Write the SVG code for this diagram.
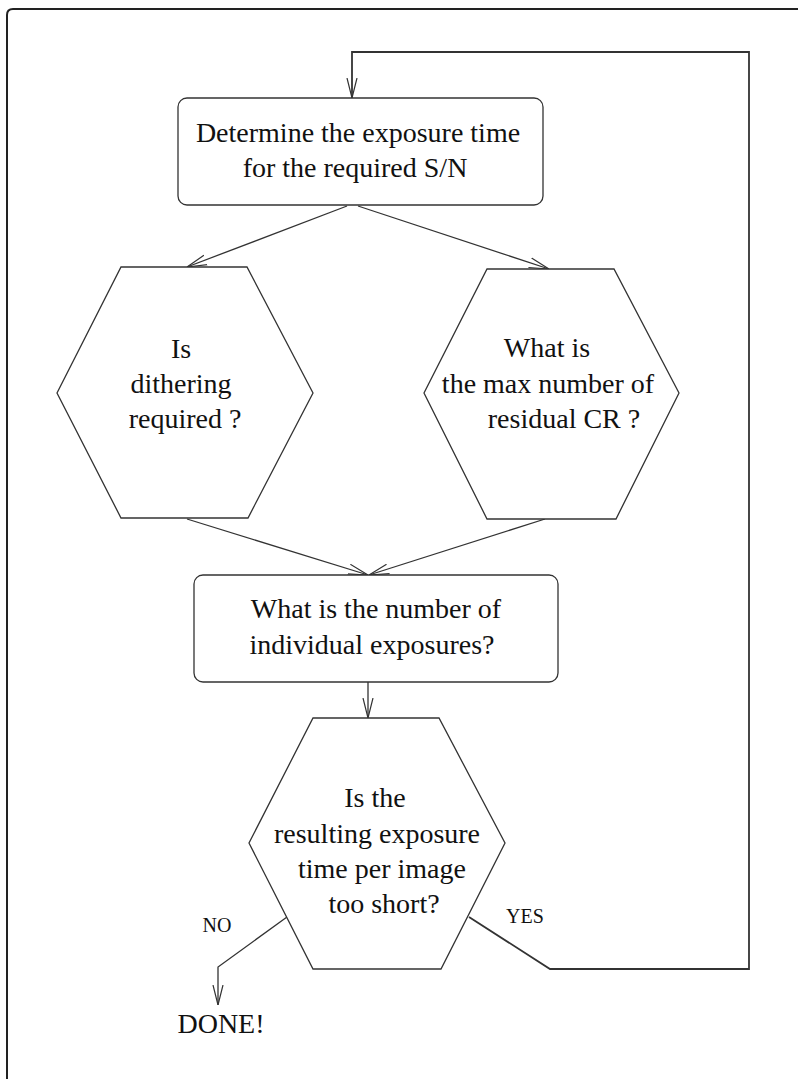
<svg xmlns="http://www.w3.org/2000/svg" width="798" height="1079" viewBox="0 0 798 1079">
<style>
  .shape { fill: #fff; stroke: #333; stroke-width: 1.3; }
  .conn { fill: none; stroke: #333; stroke-width: 1.3; }
  .loop { fill: none; stroke: #333; stroke-width: 1.8; }
  .t { font-family: "Liberation Serif", "Times New Roman", serif; font-size: 28px; fill: #111; text-anchor: middle; }
  .lbl { font-family: "Liberation Serif", "Times New Roman", serif; font-size: 20px; fill: #111; text-anchor: middle; }
</style>
<defs>
  <marker id="arr" viewBox="0 0 20 12" refX="20" refY="6" markerWidth="20" markerHeight="12" markerUnits="userSpaceOnUse" orient="auto">
    <path d="M0,1 L20,6 L0,11" fill="none" stroke="#333" stroke-width="1.2"/>
  </marker>
</defs>
<rect width="798" height="1079" fill="#fff"/>
<path id="frame" d="M7,1079 V15 Q7,9 13,9 H798" fill="none" stroke="#222" stroke-width="2"/>

<g id="connectors">
  <path class="conn" d="M347,206 L187,267" marker-end="url(#arr)"/>
  <path class="conn" d="M358,206 L549,269" marker-end="url(#arr)"/>
  <path class="conn" d="M187,519 L368,575" marker-end="url(#arr)"/>
  <path class="conn" d="M545,519 L369,575" marker-end="url(#arr)"/>
  <path class="conn" d="M368,682 V718" marker-end="url(#arr)"/>
  <path class="conn" d="M287,917 L218,967 V1005" marker-end="url(#arr)"/>
  <path class="loop" d="M469,917 L550,969 H749 V52 H352 V98" marker-end="url(#arr)"/>
  <text class="lbl" x="217" y="932">NO</text>
  <text class="lbl" x="525" y="923">YES</text>
</g>

<g id="n1">
  <rect class="shape" x="178" y="98" width="365" height="107" rx="9"/>
  <text class="t" x="358" y="142">Determine the exposure time</text>
  <text class="t" x="355" y="177">for the required S/N</text>
</g>

<g id="n2">
  <polygon class="shape" points="121,267 247,267 313,393 248,518 121,518 57,393"/>
  <text class="t" x="181" y="358">Is</text>
  <text class="t" x="181" y="393">dithering</text>
  <text class="t" x="185" y="428">required ?</text>
</g>

<g id="n3">
  <polygon class="shape" points="487,269 614,269 679,393 616,519 487,519 424,393"/>
  <text class="t" x="547" y="357">What is</text>
  <text class="t" x="548" y="393">the max number of</text>
  <text class="t" x="564" y="428">residual CR ?</text>
</g>

<g id="n4">
  <rect class="shape" x="194" y="575" width="364" height="107" rx="9"/>
  <text class="t" x="376" y="618">What is the number of</text>
  <text class="t" x="372" y="654">individual exposures?</text>
</g>

<g id="n5">
  <polygon class="shape" points="313,718 439,718 505,843 441,969 313,969 249,843"/>
  <text class="t" x="375" y="807">Is the</text>
  <text class="t" x="377" y="843">resulting exposure</text>
  <text class="t" x="382" y="878">time per image</text>
  <text class="t" x="384" y="913">too short?</text>
</g>

<g id="n6">
  <text class="t" x="221" y="1033">DONE!</text>
</g>
</svg>
